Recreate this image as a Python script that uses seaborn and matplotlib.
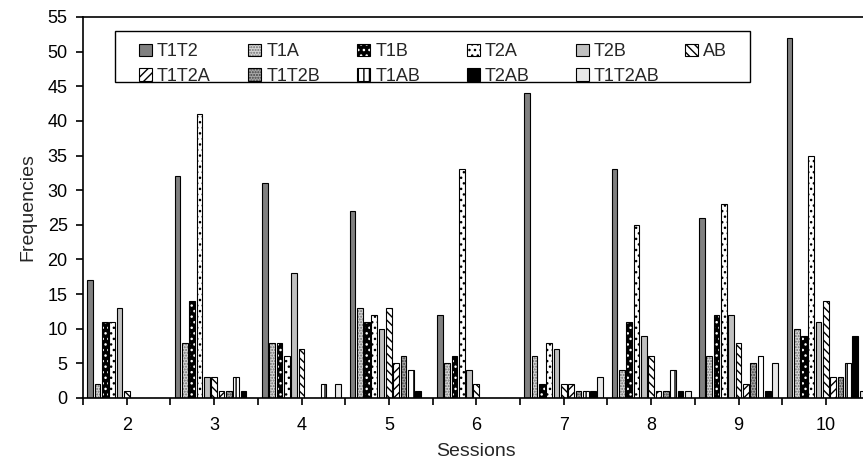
import numpy as np
import pandas as pd
import matplotlib
matplotlib.use("Agg")
import matplotlib.pyplot as plt
import matplotlib.patches as mpatches
import matplotlib.colors as mcolors
from matplotlib.legend import Legend
import seaborn as sns

sessions = ["2", "3", "4", "5", "6", "7", "8", "9", "10"]
series = ["T1T2", "T1A", "T1B", "T2A", "T2B", "AB",
          "T1T2A", "T1T2B", "T1AB", "T2AB", "T1T2AB"]

t1t2 = [17, 32, 31, 27, 12, 44, 33, 26, 52]
t1a = [2, 8, 8, 13, 5, 6, 4, 6, 10]
t1b = [11, 14, 8, 11, 6, 2, 11, 12, 9]
t2a = [11, 41, 6, 12, 33, 8, 25, 28, 35]
t2b = [13, 3, 18, 10, 4, 7, 9, 12, 11]
ab = [1, 3, 7, 13, 2, 2, 6, 8, 14]
t1t2a = [0, 1, 0, 5, 0, 2, 1, 2, 3]
t1t2b = [0, 1, 0, 6, 0, 1, 1, 5, 3]
t1ab = [0, 3, 2, 4, 0, 1, 4, 6, 5]
t2ab = [0, 1, 0, 1, 0, 1, 1, 1, 9]
t1t2ab = [0, 0, 2, 0, 0, 3, 1, 5, 1]

values = [t1t2, t1a, t1b, t2a, t2b, ab, t1t2a, t1t2b, t1ab, t2ab, t1t2ab]

rows = []
for name, vals in zip(series, values):
    for s, v in zip(sessions, vals):
        rows.append({"Sessions": s, "Series": name, "Frequencies": v})
df = pd.DataFrame(rows)

# face colour, hatch, hatch colour (grayscale print style)
styles = {
    "T1T2": ("#808080", "", None),
    "T1A": ("#d6d6d6", "......", "#707070"),
    "T1B": ("black", "...", "white"),
    "T2A": ("white", "...", "black"),
    "T2B": ("#c0c0c0", "", None),
    "AB": ("white", "\\\\\\\\", "black"),
    "T1T2A": ("white", "////", "black"),
    "T1T2B": ("#a8a8a8", "......", "#404040"),
    "T1AB": ("white", "|||", "black"),
    "T2AB": ("black", "", None),
    "T1T2AB": ("#e8e8e8", "", None),
}


def apply_style(p, name):
    face, hatch, hcol = styles[name]
    p.set_facecolor(face)
    p.set_edgecolor("black")
    p.set_linewidth(0.8)
    p.set_hatch(hatch)
    if hcol is not None:
        p._hatch_color = mcolors.to_rgba(hcol)


sns.set_style("ticks")
plt.rcParams["font.family"] = ["Liberation Sans", "DejaVu Sans"]
plt.rcParams["hatch.linewidth"] = 1.0

fig = plt.figure(figsize=(8.63, 4.61), dpi=100)
ax = fig.add_axes([0.0962, 0.1367, 0.9115, 0.8265])

palette = {n: styles[n][0] for n in series}
sns.barplot(data=df, x="Sessions", y="Frequencies", hue="Series",
            order=sessions, hue_order=series, palette=palette,
            width=0.92, gap=0.22, errorbar=None, legend=False, ax=ax,
            saturation=1)

for name, cont in zip(series, ax.containers):
    for p in cont:
        apply_style(p, name)

ax.set_xlim(-0.5, 8.5)
ax.set_ylim(0, 55)
ax.set_yticks(np.arange(0, 56, 5))
ax.set_xticks(np.arange(len(sessions)))
ax.set_xticklabels(sessions)
ax.set_xticks(np.arange(-0.5, len(sessions), 1), minor=True)

ax.tick_params(axis="both", which="both", direction="out", length=5,
               width=1.2, colors="black", labelsize=13)
ax.tick_params(axis="y", pad=6)
ax.tick_params(axis="x", pad=9)
for sp in ax.spines.values():
    sp.set_visible(True)
    sp.set_linewidth(1.2)
    sp.set_color("black")

ax.set_xlabel("Sessions", fontsize=14, labelpad=6)
ax.set_ylabel("Frequencies", fontsize=14, labelpad=8)

# legend: six evenly spaced columns, filled row-wise, inside one box
handles = {}
for name in series:
    h = mpatches.Rectangle((0, 0), 1, 1)
    apply_style(h, name)
    handles[name] = h

box = mpatches.Rectangle((0.0407, 0.8294), 0.8073, 0.1339,
                         transform=ax.transAxes, facecolor="white",
                         edgecolor="black", linewidth=1.0, zorder=4)
ax.add_patch(box)

col_x = 0.0712
col_step = 0.1388
for c in range(6):
    names = [series[i] for i in (c, c + 6) if i < len(series)]
    lg = Legend(ax, [handles[n] for n in names], names,
                loc="upper left", bbox_to_anchor=(col_x + c * col_step, 0.931),
                bbox_transform=ax.transAxes,
                borderaxespad=0, borderpad=0, frameon=False, fontsize=13,
                handlelength=0.72, handleheight=0.72, handletextpad=0.28,
                labelspacing=0.42)
    lg.set_zorder(5)
    ax.add_artist(lg)

fig.savefig("out.png", dpi=100)
